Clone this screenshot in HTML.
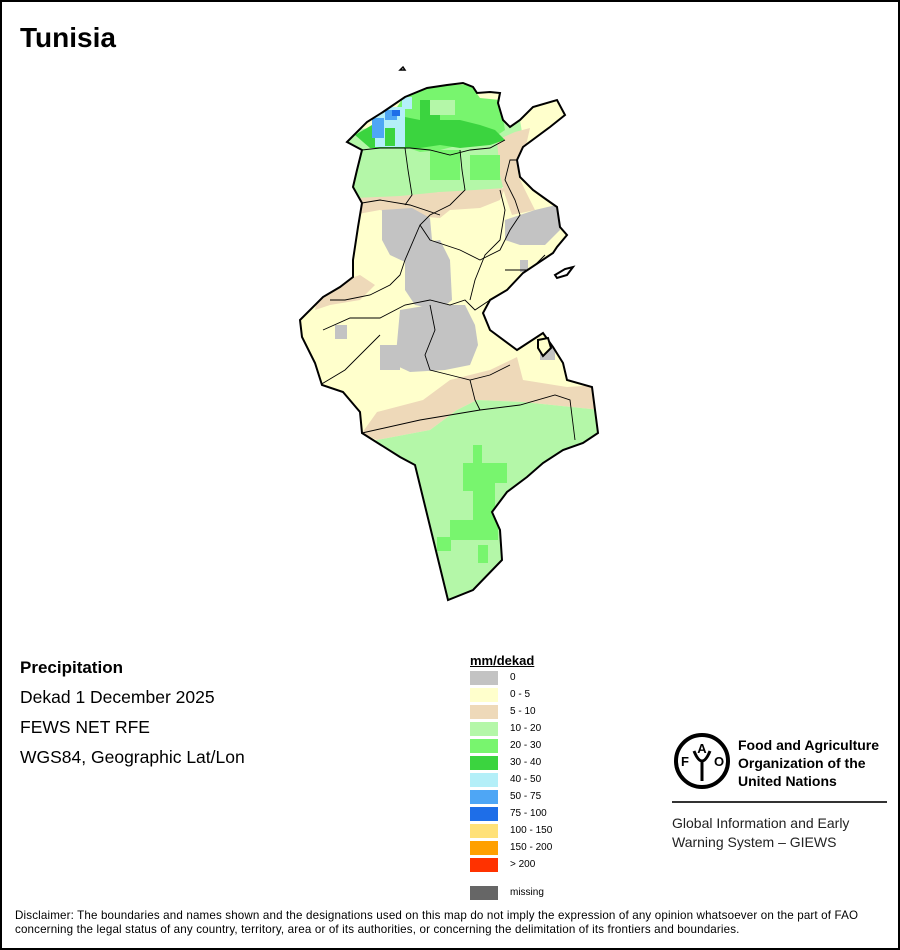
<!DOCTYPE html>
<html><head><meta charset="utf-8">
<style>
html,body{margin:0;padding:0;background:#fff}
#page{position:relative;width:896px;height:946px;border:2px solid #000;overflow:hidden;font-family:"Liberation Sans",Arial,sans-serif;color:#000}
.t{position:absolute;white-space:nowrap}
</style></head>
<body>
<div id="page">
<div class="t" style="left:18px;top:20px;font-size:28px;font-weight:bold">Tunisia</div>

<svg width="896" height="946" style="position:absolute;left:0;top:0">
<defs>
<clipPath id="tn"><path id="outline" d="M347,142 L367,122 L383,112 L405,97 L427,88 L447,85 L463,83 L473,87 L477,93 L490,92 L500,93 L498,103 L503,120 L510,127 L520,120 L533,107 L557,100 L565,115 L550,127 L523,147 L517,160 L520,177 L533,190 L547,200 L557,207 L560,227 L567,235 L557,247 L553,253 L523,273 L507,290 L490,300 L483,313 L490,330 L517,350 L543,333 L553,347 L563,363 L567,380 L592,387 L598,433 L583,443 L563,450 L543,463 L527,477 L507,492 L492,512 L500,530 L502,560 L473,590 L448,600 L415,465 L400,457 L362,433 L360,412 L343,392 L322,385 L315,363 L302,337 L300,320 L323,297 L340,287 L353,277 L353,260 L358,227 L362,203 L353,187 L357,170 L362,150 Z"/></clipPath>
</defs>
<g clip-path="url(#tn)" transform="translate(-2,-2)">
 <rect x="290" y="70" width="320" height="540" fill="#ffffcc"/>
 <polygon fill="#b4f7a8" points="340,130 520,120 525,150 515,175 500,190 470,195 440,192 400,198 370,200 350,205 340,190"/>
 <polygon fill="#eed9b9" points="355,198 400,196 440,192 475,190 505,188 500,200 480,208 450,210 440,218 400,215 380,210 358,214"/>
 <polygon fill="#eed9b9" points="497,140 515,132 530,128 525,150 518,175 525,190 535,210 512,215 505,195 500,175"/>
 <polygon fill="#eed9b9" points="320,285 345,280 360,275 375,285 360,300 330,305 315,310"/>
 <polygon fill="#78f56e" points="410,88 470,84 480,98 500,100 505,130 490,140 460,145 440,150 420,152 400,145 395,110"/>
 <rect x="430" y="150" width="30" height="30" fill="#78f56e"/>
 <rect x="470" y="155" width="30" height="25" fill="#78f56e"/>
 <polygon fill="#3bd43f" points="355,135 372,125 395,115 420,120 460,120 480,125 495,130 505,140 490,145 460,148 440,145 420,148 400,148 370,148"/>
 <rect x="420" y="100" width="20" height="20" fill="#3bd43f"/>
 <rect x="430" y="100" width="25" height="15" fill="#b4f7a8"/>
 <rect x="375" y="107" width="30" height="40" fill="#b4eff8"/>
 <rect x="372" y="118" width="12" height="20" fill="#4ea6f5"/>
 <rect x="385" y="110" width="12" height="10" fill="#4ea6f5"/>
 <rect x="392" y="110" width="8" height="6" fill="#1e6ee8"/>
 <rect x="385" y="128" width="10" height="18" fill="#3bd43f"/>
 <rect x="402" y="97" width="10" height="12" fill="#b4eff8"/>
 <g fill="#c3c3c3">
  <polygon points="382,210 412,208 430,218 432,240 425,262 405,262 390,255 382,240"/>
  <polygon points="405,245 440,240 450,260 452,300 440,310 415,305 405,290"/>
  <polygon points="400,310 430,305 465,305 475,325 478,345 470,365 445,370 410,372 395,365"/>
  <polygon points="505,220 535,210 556,205 560,230 545,245 520,245 505,240"/>
  <rect x="520" y="260" width="8" height="12"/>
  <rect x="515" y="305" width="15" height="20"/>
  <rect x="335" y="325" width="12" height="14"/>
  <rect x="380" y="345" width="20" height="25"/>
  <rect x="540" y="345" width="15" height="15"/>
 </g>
 <polygon fill="#eed9b9" points="362,433 377,412 423,400 450,380 490,370 517,357 523,380 567,387 600,385 600,410 523,402 477,400 457,410 430,430 377,440"/>
 <polygon fill="#b4f7a8" points="377,440 430,430 457,410 477,400 523,402 600,410 610,620 300,620 300,460"/>
 <g fill="#78f56e">
  <rect x="473" y="445" width="9" height="20"/>
  <rect x="463" y="463" width="32" height="28"/>
  <rect x="473" y="490" width="22" height="42"/>
  <rect x="450" y="520" width="48" height="20"/>
  <rect x="437" y="537" width="14" height="14"/>
  <rect x="495" y="463" width="12" height="20"/>
  <rect x="478" y="545" width="10" height="18"/>
 </g>
</g>
<g transform="translate(-2,-2)" fill="none" stroke="#000">
 <g stroke-width="0.9" clip-path="url(#tn)">
  <polyline points="362,150 380,148 410,148 430,150 450,155 470,150 490,148 505,140"/>
  <polyline points="405,148 408,170 412,195 405,205"/>
  <polyline points="460,150 462,170 465,190 450,205 430,215 420,225 430,240 460,250 480,260 500,250 510,230 520,215 515,200 505,180 510,160 517,160"/>
  <polyline points="362,203 380,200 410,205 440,215"/>
  <polyline points="500,190 505,210 500,240 485,255 475,280 470,300"/>
  <polyline points="420,225 405,260 400,275 390,285 370,295 345,300 330,300"/>
  <polyline points="323,330 350,318 380,318 405,305 430,300 450,305 465,300 475,310 490,300"/>
  <polyline points="430,305 435,330 425,355 430,370 450,375 470,380 490,375 510,365"/>
  <polyline points="470,380 475,400 480,410"/>
  <polyline points="362,433 420,420 480,410 520,405 555,395 570,400 575,440"/>
  <polyline points="320,385 345,370 380,335"/>
  <polyline points="505,270 530,270 545,255"/>
 </g>
 <use href="#outline" stroke-width="2"/>
 <path d="M555,275 l10,-6 l8,-2 l-6,8 l-10,3 Z" stroke-width="2" fill="#fff"/>
 <path d="M538,340 l10,-2 l3,10 l-8,8 l-5,-8 Z" stroke-width="2" fill="#ffffcc"/>
 <path d="M400,70 l3,-3 l2,3 Z" stroke-width="1.5"/>
</g>
</svg>

<div class="t" style="left:18px;top:656px;font-size:17px;font-weight:bold">Precipitation</div>
<div class="t" style="left:18px;top:685px;font-size:17.5px">Dekad 1 December 2025</div>
<div class="t" style="left:18px;top:715px;font-size:17.5px">FEWS NET RFE</div>
<div class="t" style="left:18px;top:745px;font-size:17.5px">WGS84, Geographic Lat/Lon</div>

<div class="t" style="left:468px;top:651px;font-size:13px;font-weight:bold;text-decoration:underline">mm/dekad</div>
<div id="legend"></div>

<svg width="60" height="60" style="position:absolute;left:670px;top:729px" viewBox="0 0 60 60">
 <circle cx="30" cy="30" r="26" fill="none" stroke="#000" stroke-width="4"/>
 <text x="30" y="22" font-size="13" font-weight="bold" text-anchor="middle" font-family="Liberation Sans">A</text>
 <text x="13" y="35" font-size="13" font-weight="bold" text-anchor="middle" font-family="Liberation Sans">F</text>
 <text x="47" y="35" font-size="13" font-weight="bold" text-anchor="middle" font-family="Liberation Sans">O</text>
 <path d="M22,20 Q30,40 38,20 M30,30 L30,50" stroke="#000" stroke-width="3" fill="none"/>
</svg>
<div class="t" style="left:736px;top:734px;font-size:14px;font-weight:bold;line-height:18px">Food and Agriculture<br>Organization of the<br>United Nations</div>
<div style="position:absolute;left:670px;top:799px;width:215px;height:2px;background:#333"></div>
<div class="t" style="left:670px;top:812px;font-size:14px;line-height:19px;color:#222">Global Information and Early<br>Warning System – GIEWS</div>

<div class="t" style="left:13px;top:907px;font-size:11.6px;line-height:14px;letter-spacing:0.15px">Disclaimer: The boundaries and names shown and the designations used on this map do not imply the expression of any opinion whatsoever on the part of FAO<br>concerning the legal status of any country, territory, area or of its authorities, or concerning the delimitation of its frontiers and boundaries.</div>
</div>
<script>
const legendLabels = ["0","0 - 5","5 - 10","10 - 20","20 - 30","30 - 40","40 - 50","50 - 75","75 - 100","100 - 150","150 - 200","> 200"];
const legendColors = ["#c3c3c3","#ffffcc","#eed9b9","#b4f7a8","#78f56e","#3bd43f","#b4eff8","#4ea6f5","#1e6ee8","#ffe178","#ffa000","#ff3200"];
const lg = document.getElementById('legend');
function addRow(label, color, y, key){
  const sw = document.createElement('div');
  
  
  sw.style.cssText = 'position:absolute;left:468px;top:'+y+'px;width:28px;height:14px;background:'+color;
  lg.appendChild(sw);
  const tx = document.createElement('div');
  
  
  tx.className = 't';
  tx.style.cssText = 'left:508px;top:'+(y+1)+'px;font-size:10px';
  tx.textContent = label;
  lg.appendChild(tx);
}
legendLabels.forEach((l,i)=>addRow(l, legendColors[i], 669 + i*17, i));
addRow('missing', '#666666', 884, 'missing');
</script>
</body></html>
